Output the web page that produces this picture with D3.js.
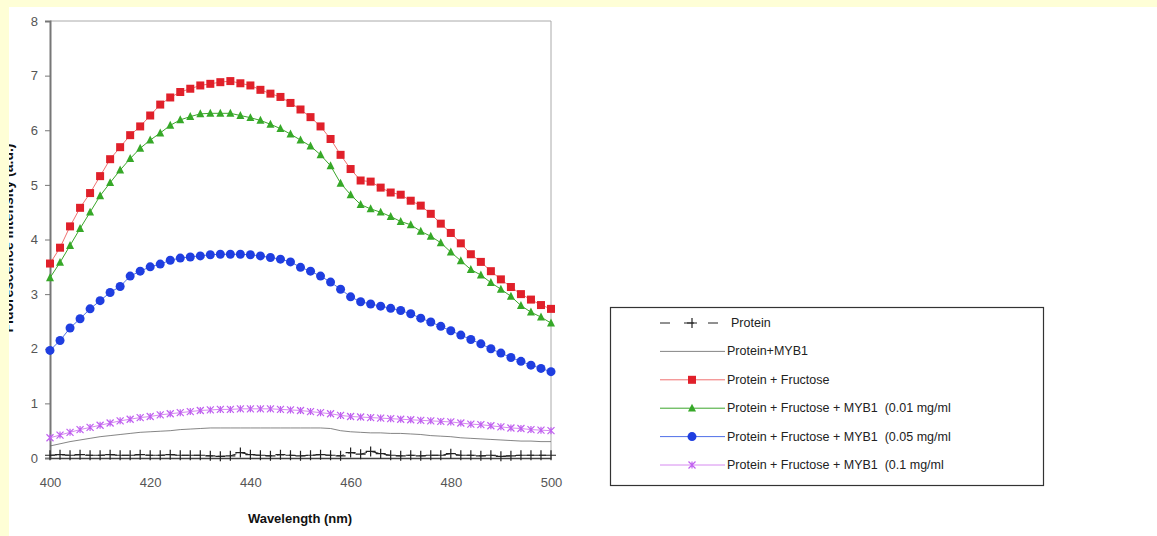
<!DOCTYPE html>
<html><head><meta charset="utf-8">
<script src="https://cdn.jsdelivr.net/npm/d3@7/dist/d3.min.js"></script>
<style>
html,body{margin:0;padding:0;background:#fff;}
svg{display:block;font-family:"Liberation Sans",Arial,sans-serif;}
</style></head>
<body>
<svg id="chart" width="1157" height="536"></svg>
<script>
const wavelengths = d3.range(400, 501, 2);
const xTicks = [400, 420, 440, 460, 480, 500];
const yTicks = [0, 1, 2, 3, 4, 5, 6, 7, 8];

const protein = [0.05,0.06,0.05,0.06,0.05,0.05,0.06,0.05,0.05,0.06,0.05,0.05,0.06,0.05,0.05,0.05,0.04,0.03,0.04,0.10,0.06,0.05,0.04,0.06,0.05,0.04,0.05,0.06,0.05,0.04,0.10,0.07,0.12,0.08,0.05,0.04,0.05,0.04,0.05,0.05,0.08,0.05,0.05,0.04,0.05,0.03,0.04,0.05,0.05,0.05,0.05];
const proteinMYB1 = [0.22,0.26,0.30,0.33,0.36,0.39,0.41,0.43,0.45,0.47,0.48,0.49,0.50,0.52,0.53,0.54,0.55,0.55,0.55,0.55,0.55,0.55,0.55,0.55,0.55,0.55,0.55,0.55,0.54,0.50,0.48,0.47,0.46,0.46,0.45,0.45,0.44,0.43,0.41,0.40,0.39,0.37,0.36,0.35,0.34,0.33,0.32,0.31,0.31,0.30,0.30];
const proteinFructose = [3.56,3.85,4.24,4.58,4.85,5.16,5.47,5.69,5.91,6.07,6.27,6.47,6.60,6.70,6.76,6.82,6.85,6.88,6.90,6.86,6.82,6.74,6.67,6.61,6.50,6.38,6.24,6.07,5.84,5.55,5.29,5.08,5.06,4.95,4.86,4.82,4.71,4.62,4.47,4.29,4.12,3.93,3.73,3.59,3.42,3.27,3.13,3.00,2.90,2.80,2.73];
const myb001 = [3.30,3.58,3.89,4.20,4.50,4.80,5.04,5.27,5.48,5.67,5.82,5.95,6.09,6.19,6.25,6.30,6.31,6.31,6.31,6.27,6.23,6.18,6.11,6.03,5.93,5.82,5.71,5.55,5.35,5.03,4.82,4.64,4.56,4.50,4.42,4.33,4.27,4.15,4.06,3.94,3.77,3.61,3.45,3.35,3.21,3.09,2.96,2.79,2.67,2.58,2.47];
const myb005 = [1.97,2.15,2.38,2.55,2.73,2.88,3.03,3.14,3.33,3.42,3.50,3.55,3.62,3.66,3.68,3.70,3.72,3.73,3.73,3.73,3.72,3.70,3.67,3.64,3.59,3.49,3.42,3.33,3.22,3.09,2.95,2.86,2.82,2.78,2.74,2.70,2.64,2.56,2.49,2.41,2.33,2.25,2.17,2.09,2.00,1.92,1.84,1.77,1.70,1.64,1.58];
const myb01 = [0.37,0.42,0.47,0.52,0.56,0.60,0.64,0.68,0.71,0.74,0.76,0.79,0.81,0.83,0.85,0.87,0.88,0.89,0.89,0.90,0.90,0.90,0.90,0.89,0.88,0.87,0.85,0.83,0.81,0.78,0.76,0.75,0.74,0.73,0.72,0.71,0.70,0.69,0.68,0.67,0.66,0.64,0.62,0.61,0.59,0.57,0.55,0.54,0.52,0.51,0.50];

const seriesNames = ["Protein","Protein+MYB1","Protein + Fructose","Protein + Fructose + MYB1  (0.01 mg/ml","Protein + Fructose + MYB1  (0.05 mg/ml","Protein + Fructose + MYB1  (0.1 mg/ml"];
const seriesValues = [protein, proteinMYB1, proteinFructose, myb001, myb005, myb01];
const xTitle = "Wavelength (nm)";
const yTitle = "Fluorescence Intensity (a.u.)";

const styles = [
  {line:"#222", width:1, dash:"7,5", marker:"plus", mcolor:"#222"},
  {line:"#666", width:0.8, dash:null, marker:null, mcolor:null},
  {line:"#f07070", width:1, dash:null, marker:"square", mcolor:"#e0202a"},
  {line:"#3aa62a", width:1, dash:null, marker:"triangle", mcolor:"#36a828"},
  {line:"#5070e8", width:1, dash:null, marker:"circle", mcolor:"#1f3ee0"},
  {line:"#d68af0", width:1, dash:null, marker:"star", mcolor:"#c060f0"}
];

const svg = d3.select("#chart");
const W = 1157, H = 536;
const x = d3.scaleLinear().domain([400, 500]).range([50, 551]);
const y = d3.scaleLinear().domain([0, 8]).range([458, 21]);

// y title (partially hidden by frame)
svg.append("text")
  .attr("transform", `translate(13,238) rotate(-90)`)
  .attr("text-anchor","middle")
  .attr("font-size",14).attr("font-weight","bold").attr("fill","#111")
  .text(yTitle);

// plot frame (top & right gray)
svg.append("path")
  .attr("d", `M${x(400)},${y(8)}H${x(500)}V${y(0)}`)
  .attr("fill","none").attr("stroke","#aaa").attr("stroke-width",1);

// y axis
const yAxis = d3.axisLeft(y).tickValues(yTicks).tickSize(5).tickPadding(7).tickFormat(d3.format("d"));
const gy = svg.append("g").attr("transform",`translate(${x(400)},0)`).call(yAxis);
gy.select(".domain").attr("stroke","#777").attr("stroke-width",2);
gy.selectAll(".tick line").attr("stroke","#777");
gy.selectAll(".tick text").attr("font-size",13).attr("fill","#555").attr("font-family","Liberation Sans, Arial, sans-serif");

// x axis
const xAxis = d3.axisBottom(x).tickValues(xTicks).tickSize(0).tickPadding(20).tickFormat(d3.format("d"));
const gx = svg.append("g").attr("transform",`translate(0,${y(0)})`).call(xAxis);
gx.select(".domain").attr("stroke","#444").attr("stroke-width",1.5);
gx.selectAll(".tick text").attr("font-size",13).attr("fill","#555").attr("font-family","Liberation Sans, Arial, sans-serif");

svg.append("text")
  .attr("x",300).attr("y",523).attr("text-anchor","middle")
  .attr("font-size",13).attr("font-weight","bold").attr("fill","#111")
  .text(xTitle);

function drawMarker(g, type, cx, cy, color, s) {
  if (type === "square") {
    g.append("rect").attr("x",cx-s/2).attr("y",cy-s/2).attr("width",s).attr("height",s).attr("fill",color);
  } else if (type === "triangle") {
    const h = s*0.95;
    g.append("path").attr("d",`M${cx},${cy-h*0.6}L${cx+s/2},${cy+h*0.45}L${cx-s/2},${cy+h*0.45}Z`).attr("fill",color);
  } else if (type === "circle") {
    g.append("circle").attr("cx",cx).attr("cy",cy).attr("r",s/2).attr("fill",color);
  } else if (type === "plus") {
    g.append("path").attr("d",`M${cx-s/2},${cy}H${cx+s/2}M${cx},${cy-s/2}V${cy+s/2}`).attr("stroke",color).attr("stroke-width",1.2);
  } else if (type === "star") {
    const r = s/2;
    g.append("path").attr("d",`M${cx-r},${cy-r}L${cx+r},${cy+r}M${cx-r},${cy+r}L${cx+r},${cy-r}M${cx},${cy-r}V${cy+r}`).attr("stroke",color).attr("stroke-width",1.2).attr("fill","none");
  }
}

const markerSize = {square:8, triangle:8, circle:9, plus:10, star:7};
const line = d3.line().x((d,i)=>x(wavelengths[i])).y(d=>y(d));

const order = [1,0,5,4,3,2];
order.forEach(si => {
  const st = styles[si];
  const vals = seriesValues[si];
  const g = svg.append("g");
  g.append("path").attr("d", line(vals)).attr("fill","none")
    .attr("stroke", st.line).attr("stroke-width", st.width)
    .attr("stroke-dasharray", st.dash);
  if (st.marker) {
    vals.forEach((v,i)=> drawMarker(g, st.marker, x(wavelengths[i]), y(v), st.mcolor, markerSize[st.marker]));
  }
});

// legend
const lg = svg.append("g");
lg.append("rect").attr("x",610.5).attr("y",307.5).attr("width",433).attr("height",178)
  .attr("fill","#fff").attr("stroke","#333").attr("stroke-width",1.2);
const legY = d3.scalePoint().domain(d3.range(seriesNames.length)).range([323, 465]);
seriesNames.forEach((name,i)=>{
  const st = styles[i];
  const yy = legY(i);
  lg.append("line").attr("x1",660).attr("x2",725).attr("y1",yy).attr("y2",yy)
    .attr("stroke", i===0 ? "#222" : st.line).attr("stroke-width", st.width)
    .attr("stroke-dasharray", i===0 ? "10,14" : null);
  if (st.marker) drawMarker(lg, st.marker, 692, yy, st.mcolor, markerSize[st.marker]);
  lg.append("text").attr("x", i===0 ? 731 : 727).attr("y", yy+4)
    .attr("font-size",12.5).attr("fill","#222").style("white-space","pre").text(name);
});

// yellow frame
svg.append("rect").attr("x",0).attr("y",0).attr("width",W).attr("height",7).attr("fill","#fefed6");
svg.append("rect").attr("x",0).attr("y",0).attr("width",9).attr("height",H).attr("fill","#fefed6");
</script>
</body></html>
